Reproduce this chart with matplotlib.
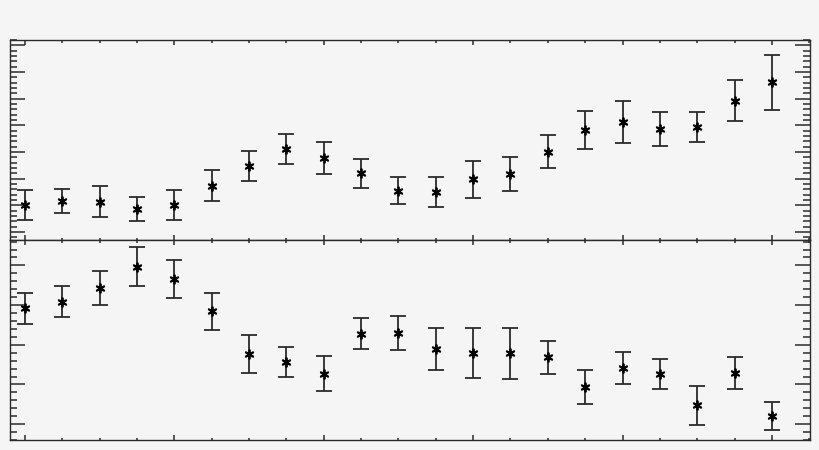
import matplotlib
matplotlib.use("Agg")
from matplotlib import pyplot as plt
from matplotlib.ticker import MultipleLocator, NullFormatter

idx = list(range(21))

top_val = [1.01, 1.16, 1.14, 0.86, 1.01, 1.74, 2.47, 3.11, 2.76, 2.20, 1.55,
           1.50, 1.98, 2.18, 3.01, 3.82, 4.13, 3.86, 3.94, 4.93, 5.61]
top_err = [0.56, 0.46, 0.57, 0.46, 0.57, 0.59, 0.55, 0.56, 0.60, 0.55, 0.51,
           0.55, 0.69, 0.63, 0.62, 0.71, 0.78, 0.64, 0.56, 0.76, 1.03]

bot_val = [2.92, 3.09, 3.42, 3.97, 3.66, 2.84, 1.77, 1.57, 1.27, 2.28, 2.29,
           1.89, 1.79, 1.78, 1.68, 0.93, 1.41, 1.26, 0.48, 1.28, 0.21]
bot_err = [0.39, 0.39, 0.43, 0.50, 0.47, 0.47, 0.48, 0.38, 0.44, 0.39, 0.43,
           0.53, 0.62, 0.64, 0.41, 0.43, 0.40, 0.37, 0.49, 0.40, 0.36]

bg = '#f5f5f5'
ink = '#2b2b2b'

fig = plt.figure(figsize=(8.2, 4.5), dpi=100, facecolor=bg)
ax1 = fig.add_axes([10/820, 1 - 240/450, 800/820, 200/450])
ax2 = fig.add_axes([10/820, 1 - 440/450, 800/820, 200/450])

for ax, val, err, ylim in [(ax1, top_val, top_err, (-0.3, 7.2)),
                           (ax2, bot_val, bot_err, (-0.4, 4.64))]:
    ax.set_facecolor(bg)
    ax.errorbar(idx, val, yerr=err, fmt='none', ecolor=ink, elinewidth=1.3,
                capsize=6, capthick=1.3)
    ax.plot(idx, val, linestyle='none', marker=(6, 2, 0), markersize=7,
            markeredgewidth=1.3, color='black')
    ax.plot(idx, val, linestyle='none', marker='s', markersize=2.5,
            color='black')
    ax.set_xlim(-0.4, 21.02)
    ax.set_ylim(*ylim)
    ax.xaxis.set_major_locator(MultipleLocator(4))
    ax.xaxis.set_minor_locator(MultipleLocator(1))
    ax.yaxis.set_major_locator(MultipleLocator(1))
    ax.yaxis.set_minor_locator(MultipleLocator(0.2))
    ax.xaxis.set_major_formatter(NullFormatter())
    ax.yaxis.set_major_formatter(NullFormatter())
    ax.tick_params(axis='both', which='both', direction='in', top=True,
                   right=True, color=ink, width=1.1)
    ax.tick_params(axis='x', which='major', length=3.5)
    ax.tick_params(axis='x', which='minor', length=1.8)
    ax.tick_params(axis='y', which='major', length=10.8)
    ax.tick_params(axis='y', which='minor', length=5.2)
    for s in ax.spines.values():
        s.set_color(ink)
        s.set_linewidth(1.0)

fig.savefig("out.png", dpi=100, facecolor=bg)
